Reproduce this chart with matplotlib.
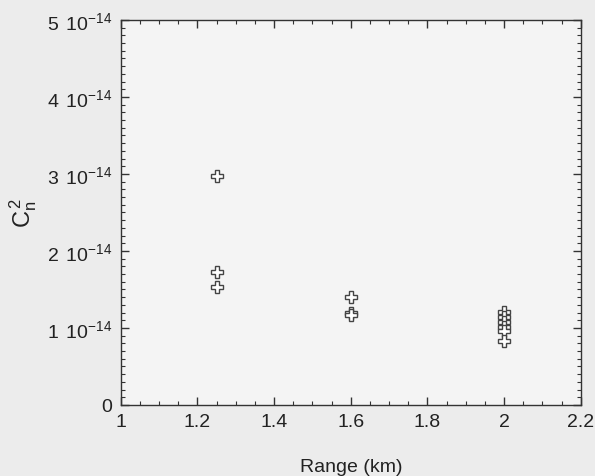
import matplotlib.pyplot as plt
import numpy as np
from matplotlib.ticker import MultipleLocator, FixedFormatter, FixedLocator

# range (km) and Cn^2 values
range_km = [1.25, 1.25, 1.25,
            1.6, 1.6, 1.6,
            2.0, 2.0, 2.0, 2.0, 2.0, 2.0]
cn2 = [2.97e-14, 1.73e-14, 1.53e-14,
       1.40e-14, 1.20e-14, 1.17e-14,
       1.21e-14, 1.14e-14, 1.08e-14, 1.01e-14, 0.96e-14, 0.83e-14]

y_ticks = [0, 1e-14, 2e-14, 3e-14, 4e-14, 5e-14]
y_labels = ['0', r'1 $\,$10$^{\mathregular{-14}}$', r'2 $\,$10$^{\mathregular{-14}}$',
            r'3 $\,$10$^{\mathregular{-14}}$', r'4 $\,$10$^{\mathregular{-14}}$',
            r'5 $\,$10$^{\mathregular{-14}}$']
x_ticks = [1, 1.2, 1.4, 1.6, 1.8, 2, 2.2]
x_labels = ['1', '1.2', '1.4', '1.6', '1.8', '2', '2.2']

plt.rcParams['font.family'] = ['Liberation Sans', 'DejaVu Sans']
plt.rcParams['mathtext.fontset'] = 'custom'
plt.rcParams['mathtext.rm'] = 'Liberation Sans'
plt.rcParams['mathtext.it'] = 'Liberation Sans'

fig = plt.figure(figsize=(5.95, 4.77), dpi=100, facecolor='#ececec')
ax = fig.add_axes([0.203, 0.149, 0.773, 0.807])
ax.set_facecolor('#f4f4f4')

ax.plot(range_km, cn2, linestyle='none', marker='P', markersize=9,
        markerfacecolor='white', markeredgecolor='#444444', markeredgewidth=1.0)

ax.set_xlim(1, 2.2)
ax.set_ylim(0, 5e-14)

ax.xaxis.set_major_locator(FixedLocator(x_ticks))
ax.xaxis.set_major_formatter(FixedFormatter(x_labels))
ax.xaxis.set_minor_locator(MultipleLocator(0.05))
ax.yaxis.set_major_locator(FixedLocator(y_ticks))
ax.yaxis.set_major_formatter(FixedFormatter(y_labels))
ax.yaxis.set_minor_locator(MultipleLocator(1e-15))

ax.tick_params(which='both', direction='in', top=True, right=True,
               colors='#333333', labelsize=14, labelcolor='#222222')
ax.tick_params(which='major', length=6, width=1)
ax.tick_params(which='minor', length=3, width=0.8)
ax.tick_params(axis='x', pad=6)
ax.tick_params(axis='y', pad=6)
for s in ax.spines.values():
    s.set_color('#333333')
    s.set_linewidth(1)

ax.set_xlabel('Range (km)', fontsize=14, color='#222222', labelpad=20)
ax.set_ylabel(r'C$_n^{\,2}$', fontsize=17, color='#222222', labelpad=6)

fig.savefig('out.png', dpi=100, facecolor=fig.get_facecolor())
